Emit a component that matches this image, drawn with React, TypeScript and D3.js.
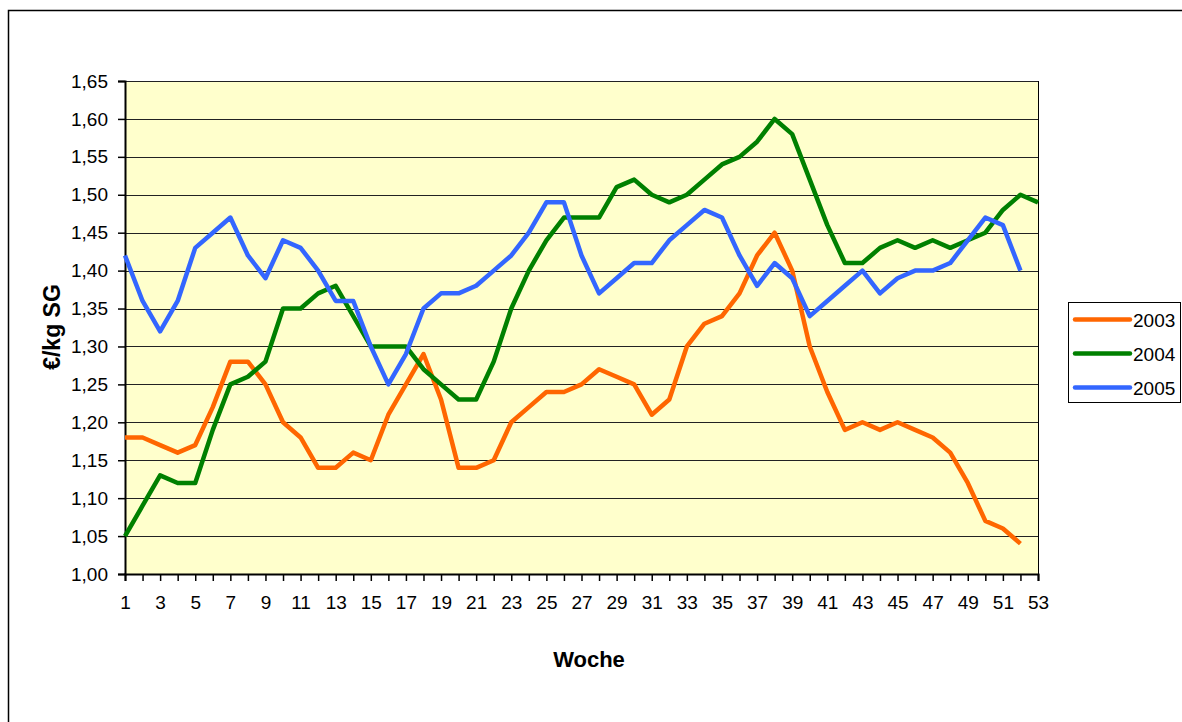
import React, { useEffect, useRef } from 'react';
import * as d3 from 'd3';

const weeks = d3.range(1, 54);

const series2003 = [
  1.18, 1.18, 1.17, 1.16, 1.17, 1.22, 1.28, 1.28, 1.25, 1.20,
  1.18, 1.14, 1.14, 1.16, 1.15, 1.21, 1.25, 1.29, 1.23, 1.14,
  1.14, 1.15, 1.20, 1.22, 1.24, 1.24, 1.25, 1.27, 1.26, 1.25,
  1.21, 1.23, 1.30, 1.33, 1.34, 1.37, 1.42, 1.45, 1.40, 1.30,
  1.24, 1.19, 1.20, 1.19, 1.20, 1.19, 1.18, 1.16, 1.12, 1.07,
  1.06, 1.04,
];
const series2004 = [
  1.05, 1.09, 1.13, 1.12, 1.12, 1.19, 1.25, 1.26, 1.28, 1.35,
  1.35, 1.37, 1.38, 1.34, 1.30, 1.30, 1.30, 1.27, 1.25, 1.23,
  1.23, 1.28, 1.35, 1.40, 1.44, 1.47, 1.47, 1.47, 1.51, 1.52,
  1.50, 1.49, 1.50, 1.52, 1.54, 1.55, 1.57, 1.60, 1.58, 1.52,
  1.46, 1.41, 1.41, 1.43, 1.44, 1.43, 1.44, 1.43, 1.44, 1.45,
  1.48, 1.50, 1.49,
];
const series2005 = [
  1.42, 1.36, 1.32, 1.36, 1.43, 1.45, 1.47, 1.42, 1.39, 1.44,
  1.43, 1.40, 1.36, 1.36, 1.30, 1.25, 1.29, 1.35, 1.37, 1.37,
  1.38, 1.40, 1.42, 1.45, 1.49, 1.49, 1.42, 1.37, 1.39, 1.41,
  1.41, 1.44, 1.46, 1.48, 1.47, 1.42, 1.38, 1.41, 1.39, 1.34,
  1.36, 1.38, 1.40, 1.37, 1.39, 1.40, 1.40, 1.41, 1.44, 1.47,
  1.46, 1.40,
];

const seriesNames = ['2003', '2004', '2005'];
const seriesColors = ['#FF6600', '#008000', '#3366FF'];
const yTicks = d3.range(0, 14).map(i => 1 + i * 0.05);

const App = () => {
  const svgRef = useRef<SVGSVGElement>(null);

  useEffect(() => {
    const margin = { top: 81, left: 125 };
    const width = 1038 - 125;
    const height = 574 - 81;
    const font = '"Liberation Sans", Arial, sans-serif';

    const svg = d3.select(svgRef.current);
    svg.selectAll('*').remove();

    // outer frame
    svg.append('rect')
      .attr('x', 8.5).attr('y', 10.5)
      .attr('width', 1200).attr('height', 730)
      .attr('fill', '#fff').attr('stroke', '#000').attr('stroke-width', 1.5);

    const g = svg.append('g')
      .attr('transform', `translate(${margin.left},${margin.top})`);

    const x = d3.scaleLinear().domain([1, 53]).range([0, width]);
    const y = d3.scaleLinear().domain([1, 1.65]).range([height, 0]);

    g.append('rect')
      .attr('width', width).attr('height', height)
      .attr('fill', '#FFFFCC');

    // gridlines
    g.append('g')
      .selectAll('line')
      .data(yTicks.slice(1))
      .join('line')
      .attr('x1', 0).attr('x2', width)
      .attr('y1', d => Math.round(y(d)) + 0.5)
      .attr('y2', d => Math.round(y(d)) + 0.5)
      .attr('stroke', '#222').attr('stroke-width', 1);

    // right border of plot
    g.append('line')
      .attr('x1', width + 0.5).attr('x2', width + 0.5)
      .attr('y1', 0).attr('y2', height)
      .attr('stroke', '#000').attr('stroke-width', 1);

    const yAxis = g.append('g')
      .call(d3.axisLeft(y)
        .tickValues(yTicks)
        .tickSize(7)
        .tickPadding(10)
        .tickFormat(d => d3.format('.2f')(d as number).replace('.', ',')));
    yAxis.select('.domain').attr('stroke-width', 2);
    yAxis.selectAll('.tick line').attr('stroke-width', 1.5);
    yAxis.selectAll('text')
      .attr('font-family', font).attr('font-size', 19).attr('fill', '#000');

    const xAxis = g.append('g')
      .attr('transform', `translate(0,${height})`)
      .call(d3.axisBottom(x)
        .tickValues(weeks)
        .tickSize(7)
        .tickPadding(15)
        .tickFormat(d => ((d as number) % 2 === 1 ? String(d) : '')));
    xAxis.select('.domain').attr('stroke-width', 2);
    xAxis.selectAll('.tick line').attr('stroke-width', 1.5);
    xAxis.selectAll('text')
      .attr('font-family', font).attr('font-size', 19).attr('fill', '#000');

    const line = d3.line<number>()
      .x((d, i) => x(weeks[i]))
      .y(d => y(d));

    [series2003, series2004, series2005].forEach((s, i) => {
      g.append('path')
        .datum(s)
        .attr('fill', 'none')
        .attr('stroke', seriesColors[i])
        .attr('stroke-width', 4.5)
        .attr('stroke-linejoin', 'round')
        .attr('d', line);
    });

    // axis titles
    svg.append('text')
      .attr('transform', 'translate(60,327) rotate(-90)')
      .attr('text-anchor', 'middle')
      .attr('font-family', font).attr('font-size', 23).attr('font-weight', 'bold')
      .text('€/kg SG');

    svg.append('text')
      .attr('x', 589).attr('y', 667)
      .attr('text-anchor', 'middle')
      .attr('font-family', font).attr('font-size', 22).attr('font-weight', 'bold')
      .text('Woche');

    // legend
    const legend = svg.append('g').attr('transform', 'translate(1068,302)');
    legend.append('rect')
      .attr('x', 0.5).attr('y', 0.5)
      .attr('width', 112).attr('height', 100)
      .attr('fill', '#fff').attr('stroke', '#000').attr('stroke-width', 1);
    seriesNames.forEach((name, i) => {
      const ly = 17.5 + i * 34;
      legend.append('line')
        .attr('x1', 7).attr('x2', 62)
        .attr('y1', ly).attr('y2', ly)
        .attr('stroke', seriesColors[i]).attr('stroke-width', 4.5)
        .attr('stroke-linecap', 'round');
      legend.append('text')
        .attr('x', 65).attr('y', ly + 7)
        .attr('font-family', font).attr('font-size', 19)
        .text(name);
    });
  }, []);

  return (
    <svg ref={svgRef} width={1182} height={722}
      style={{ position: 'absolute', left: 0, top: 0 }}></svg>
  );
};

export default App;
